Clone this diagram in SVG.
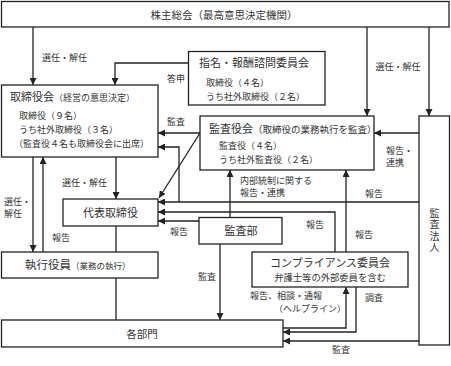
<svg xmlns="http://www.w3.org/2000/svg" width="451" height="366" viewBox="0 0 451 366">
<defs>
<marker id="ah" viewBox="0 0 10 10" refX="10" refY="5" markerWidth="7" markerHeight="7" markerUnits="userSpaceOnUse" orient="auto">
<path d="M0,0 L10,5 L0,10 z" fill="#222"/>
</marker>
</defs>
<style>
text{font-family:"Noto Sans CJK JP","Noto Sans CJK SC",sans-serif;fill:#333}
.box{fill:#fff;stroke:#222;stroke-width:1.3}
.c{fill:none;stroke:#222;stroke-width:1.3}
.a{marker-end:url(#ah)}
.t{font-size:11px}
.s{font-size:9px}
.l{font-size:9px}
.m{text-anchor:middle}
</style>
<rect width="451" height="366" fill="#fff"/>
<g id="connectors">
<path class="c a" d="M33,27 V85"/>
<path class="c a" d="M188,63 H115 V85"/>
<path class="c a" d="M367,27 V116"/>
<path class="c a" d="M429,27 V116"/>
<path class="c a" d="M419,133 H374"/>
<path class="c a" d="M200,133 H158"/>
<path class="c a" d="M200,133 L159,198"/>
<path class="c a" d="M419,202 H158"/>
<path class="c a" d="M179,202 V147 H158"/>
<path class="c a" d="M335,252 V212 H158"/>
<path class="c a" d="M199,221 H158"/>
<path class="c a" d="M230,217 V170"/>
<path class="c a" d="M346,252 V170"/>
<path class="c a" d="M116,157 V199"/>
<path class="c a" d="M33,157 V252"/>
<path class="c a" d="M43,252 V157"/>
<path class="c" d="M116,226 V252 M116,278 V320"/>
<path class="c a" d="M220,244 V320"/>
<path class="c a" d="M283,328 H346 V287"/>
<path class="c a" d="M356,287 V332 H283"/>
<path class="c a" d="M419,341 H283"/>
</g>
<g id="labels">
<text class="l" x="42" y="61">選任・解任</text>
<text class="l" x="167" y="82">答申</text>
<text class="l" x="167" y="125">監査</text>
<text class="l" x="398" y="70" text-anchor="middle">選任・解任</text>
<text class="l" x="386" y="153.5">報告・<tspan x="386" dy="12">連携</tspan></text>
<text class="l" x="240" y="184">内部統制に関する<tspan x="240" dy="11.5">報告・連携</tspan></text>
<text class="l" x="365" y="196.5">報告</text>
<text class="l" x="62" y="186">選任・解任</text>
<text class="l" x="4" y="205">選任・<tspan x="4" dy="11.5">解任</tspan></text>
<text class="l" x="52" y="241">報告</text>
<text class="l" x="170" y="235">報告</text>
<text class="l" x="306" y="228">報告</text>
<text class="l" x="355" y="238">報告</text>
<text class="l" x="198" y="280">監査</text>
<text class="l" x="250" y="299">報告、相談・通報</text>
<text class="l" x="274" y="312">（ヘルプライン）</text>
<text class="l" x="365" y="301">調査</text>
<text class="l" x="332" y="353">監査</text>
</g>
<g id="shareholders">
<rect class="box" x="1.5" y="1.5" width="447.5" height="25.5"/>
<text class="t m" x="224" y="18.5" style="font-size:10.5px">株主総会（最高意思決定機関）</text>
</g>
<g id="nomination">
<rect class="box" x="188.5" y="51.5" width="136.5" height="53.5"/>
<text class="t" x="199" y="67">指名・報酬諮問委員会</text>
<text class="s" x="206" y="85.5">取締役（４名）</text>
<text class="s" x="206" y="99.5">うち社外取締役（２名）</text>
</g>
<g id="board">
<rect class="box" x="1.5" y="85" width="156.5" height="72"/>
<text x="10" y="101"><tspan class="t">取締役会</tspan><tspan class="s">（経営の意思決定）</tspan></text>
<text class="s" x="19" y="118.5">取締役（９名）</text>
<text class="s" x="19" y="132.5">うち社外取締役（３名）</text>
<text class="s" x="14" y="146.5">（監査役４名も取締役会に出席）</text>
</g>
<g id="auditboard">
<rect class="box" x="200" y="116" width="174" height="54"/>
<text x="209" y="133"><tspan class="t">監査役会</tspan><tspan class="s" style="font-size:9.5px">（取締役の業務執行を監査）</tspan></text>
<text class="s" x="219" y="148.5">監査役（４名）</text>
<text class="s" x="219" y="162.5">うち社外監査役（２名）</text>
</g>
<g id="auditfirm">
<rect class="box" x="419" y="116" width="30.5" height="229"/>
<text x="434.5" y="208" writing-mode="vertical-rl" style="font-size:10px;letter-spacing:1.5px">監査法人</text>
</g>
<g id="ceo">
<rect class="box" x="63" y="199" width="95" height="27"/>
<text class="t m" x="110.5" y="217">代表取締役</text>
</g>
<g id="internalaudit">
<rect class="box" x="199" y="217.5" width="83" height="26.5"/>
<text class="t m" x="241" y="235">監査部</text>
</g>
<g id="executive">
<rect class="box" x="1.5" y="252" width="156.5" height="26"/>
<text x="25" y="269"><tspan class="t" style="font-size:11.5px">執行役員</tspan><tspan class="s" style="font-size:8.5px">（業務の執行）</tspan></text>
</g>
<g id="compliance">
<rect class="box" x="252" y="252" width="156" height="35"/>
<text class="t m" x="330" y="266.5">コンプライアンス委員会</text>
<text class="s m" x="330" y="280.5" style="font-size:9.3px">弁護士等の外部委員を含む</text>
</g>
<g id="departments">
<rect class="box" x="1.5" y="320" width="281.5" height="27"/>
<text class="t m" x="142" y="337.5" style="font-size:10.5px">各部門</text>
</g>
</svg>
